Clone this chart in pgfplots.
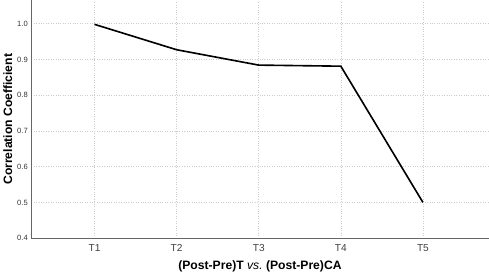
\documentclass[border=0pt]{standalone}
\usepackage{pgfplots}
\pgfplotsset{compat=1.18}
\usepackage{fontspec}
\setmainfont{Liberation Sans}
\begin{document}
\begin{tikzpicture}
\begin{axis}[
  scale only axis, width=452pt, height=235pt,
  xmin=0.23, xmax=5.8, ymin=0.4, ymax=1.065,
  axis x line*=bottom, axis y line*=left,
  axis line style={gray!80!black, line width=0.8pt, -},
  xtick={1,2,3,4,5}, xticklabels={T1,T2,T3,T4,T5},
  ytick={0.4,0.5,...,1.0},
  major tick length=0pt,
  yticklabel style={/pgf/number format/.cd, fixed, fixed zerofill, precision=1, assume math mode=true},
  ticklabel style={font=\fontsize{7.5}{8}\selectfont, text=black!80},
  xticklabel style={font=\fontsize{10}{11}\selectfont, text=black!75, yshift=-3pt},
  grid=major, grid style={gray!40, dotted, line width=0.6pt},
  xlabel={\bfseries (Post-Pre)T \mdseries\itshape vs.\ \bfseries\upshape(Post-Pre)CA},
  ylabel={\bfseries Correlation Coefficient},
  label style={font=\fontsize{12}{13}\selectfont},
  xlabel style={yshift=-2pt},
  ylabel style={yshift=-2pt},
]
\addplot[black, line width=1.6pt, mark=none] coordinates {
  (1,0.998)(2,0.927)(3,0.884)(4,0.881)(5,0.500)
};
\end{axis}
\end{tikzpicture}
\end{document}
